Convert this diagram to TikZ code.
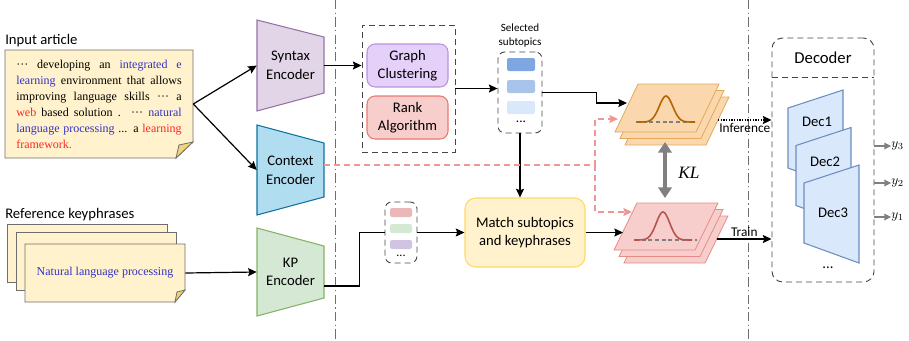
\documentclass[tikz,border=0pt]{standalone}
\usepackage{fontspec}
\setmainfont{Carlito}
\newfontfamily\tnr{Liberation Serif}
\usetikzlibrary{arrows.meta,positioning}
\definecolor{noteF}{RGB}{255,242,204}
\definecolor{noteD}{RGB}{110,110,110}
\definecolor{foldF}{RGB}{242,212,120}
\definecolor{synF}{RGB}{225,213,231}
\definecolor{synD}{RGB}{150,115,166}
\definecolor{ctxF}{RGB}{177,221,240}
\definecolor{ctxD}{RGB}{16,115,158}
\definecolor{kpF}{RGB}{213,232,212}
\definecolor{kpD}{RGB}{130,179,102}
\definecolor{gcF}{RGB}{229,208,250}
\definecolor{gcD}{RGB}{185,145,230}
\definecolor{rkF}{RGB}{248,206,204}
\definecolor{rkD}{RGB}{234,120,115}
\definecolor{matF}{RGB}{255,242,204}
\definecolor{matD}{RGB}{255,217,102}
\definecolor{barA}{RGB}{126,166,224}
\definecolor{barB}{RGB}{169,196,235}
\definecolor{barC}{RGB}{218,232,252}
\definecolor{kbA}{RGB}{234,184,184}
\definecolor{kbB}{RGB}{213,232,212}
\definecolor{kbC}{RGB}{208,196,226}
\definecolor{orF}{RGB}{250,215,172}
\definecolor{orD}{RGB}{228,168,92}
\definecolor{orC}{RGB}{180,101,4}
\definecolor{pkF}{RGB}{248,206,204}
\definecolor{pkD}{RGB}{228,140,136}
\definecolor{pkC}{RGB}{184,84,80}
\definecolor{pkL}{RGB}{240,150,150}
\definecolor{decF}{RGB}{218,232,252}
\definecolor{decD}{RGB}{108,142,191}
\definecolor{tblue}{RGB}{50,50,200}
\definecolor{tred}{RGB}{250,40,40}
\definecolor{sepC}{RGB}{110,110,110}
\definecolor{grpC}{RGB}{70,70,70}
\definecolor{kgray}{RGB}{128,128,128}
\begin{document}
\begin{tikzpicture}[x=0.75pt,y=-0.75pt,>={Stealth[length=6.5pt,width=6pt,inset=1pt]},
  lab/.style={inner sep=0pt,align=center,font=\fontsize{11}{14}\selectfont},
  enc/.style={lab,minimum width=50.25pt,minimum height=42pt},
  note/.style={fill=noteF,draw=noteD,line width=0.6pt},
  fold/.style={fill=foldF,draw=noteD,line width=0.6pt},
  blk/.style={lab,draw,line width=0.8pt,rounded corners=6pt,minimum width=60.75pt,minimum height=32.25pt},
  grp/.style={draw=grpC,line width=0.7pt,dash pattern=on 4.5pt off 3pt},
  bar/.style={inner sep=0pt,rounded corners=1.5pt},
  sep/.style={draw=sepC,line width=0.6pt,dash pattern=on 7pt off 2.5pt on 1pt off 2.5pt},
  conn/.style={->,line width=0.9pt},
  pd/.style={->,draw=pkL,line width=0.9pt,dash pattern=on 4.5pt off 3pt},
  outA/.style={draw=kgray,line width=0.8pt,-{Triangle[width=5pt,length=5pt]}}]
\useasboundingbox (0,0) rectangle (909,340);
\draw[sep] (335,0) -- (335,340);
\draw[sep] (748,0) -- (748,340);

\node[lab,anchor=west] (inlab) at (5,41) {Input article};
\draw[note] (5,50) -- (193,50) -- (193,142) -- (176,158) -- (5,158) -- cycle;
\draw[fold] (176,158) -- (179,145) -- (193,142) -- cycle;
\node[inner sep=0pt,minimum width=141pt,minimum height=81pt] (art) at (99,104)
  {\parbox{124pt}{\tnr\fontsize{9}{12}\selectfont\hyphenpenalty=10000
   ··· developing an \textcolor{tblue}{integrated e}\linebreak
   \textcolor{tblue}{learning} environment that allows\linebreak
   improving language skills ··· a\linebreak
   \textcolor{tred}{web} based solution . ··· \textcolor{tblue}{natural}\linebreak
   \textcolor{tblue}{language processing} ... a \textcolor{tred}{learning}\linebreak
   \textcolor{tred}{framework.}}};

\node[lab,anchor=west] (reflab) at (5,215) {Reference keyphrases};
\draw[note] (7,224) rectangle (167,282);
\draw[note] (16,232) rectangle (176,290);
\draw[note] (25,244) -- (185,244) -- (185,290) -- (175,302) -- (25,302) -- cycle;
\draw[fold] (175,302) -- (177,292) -- (185,290) -- cycle;
\node[inner sep=0pt,minimum width=120pt,minimum height=43.5pt,text=tblue,
  font=\tnr\fontsize{9}{11}\selectfont] (kph) at (105,273) {Natural language processing};

\draw[fill=synF,draw=synD,line width=0.8pt] (257,20) -- (324,37) -- (324,93) -- (257,111) -- cycle;
\node[enc] (syn) at (290.5,65.5) {Syntax\\Encoder};
\draw[fill=ctxF,draw=ctxD,line width=0.8pt] (257,125) -- (324,143) -- (324,197) -- (257,215) -- cycle;
\node[enc] (ctx) at (290.5,170) {Context\\Encoder};
\draw[fill=kpF,draw=kpD,line width=0.8pt] (257,228) -- (324,246) -- (324,298) -- (257,316) -- cycle;
\node[enc] (kp) at (290.5,272) {KP\\Encoder};

\draw[conn] (art.east) -- (syn.west);
\draw[conn] (art.east) -- (ctx.west);
\draw[conn] (kph.east) -- (kp.west);

\node[grp,inner sep=0pt,minimum width=69.75pt,minimum height=95.25pt] (clu) at (408.5,88.5) {};
\node[blk,draw=gcD,fill=gcF] (gc) at (407.5,65.5) {Graph\\Clustering};
\node[blk,draw=rkD,fill=rkF] (rk) at (407.5,117.5) {Rank\\Algorithm};
\draw[conn] (syn.east) -- (syn.east -| clu.west);

\node[grp,rounded corners=5pt,inner sep=0pt,minimum width=33pt,minimum height=60.75pt] (sel) at (520,92.5) {};
\node[lab,font=\fontsize{8.3}{10.5}\selectfont,above=3pt of sel] (sellab) {Selected\\subtopics};
\node[bar,fill=barA,minimum width=21pt,minimum height=9.75pt] (b1) at (521,64.5) {};
\node[bar,fill=barB,minimum width=21pt,minimum height=9.75pt] (b2) at (521,86.5) {};
\node[bar,fill=barC,minimum width=21pt,minimum height=9.75pt] (b3) at (521,107.5) {};
\node[lab,font=\fontsize{10}{10}\selectfont] (seld) at (521,122) {...};
\draw[conn] (clu.east) -- (clu.east -| sel.west);

\node[grp,rounded corners=5pt,inner sep=0pt,minimum width=24pt,minimum height=45.75pt] (kpb) at (401,232.5) {};
\node[bar,fill=kbA,minimum width=16.5pt,minimum height=6.75pt] (k1) at (401,212.5) {};
\node[bar,fill=kbB,minimum width=16.5pt,minimum height=6.75pt] (k2) at (401,228.5) {};
\node[bar,fill=kbC,minimum width=16.5pt,minimum height=6.75pt] (k3) at (401,244.5) {};
\node[lab,font=\fontsize{9}{9}\selectfont] (kpd) at (401,256) {...};
\draw[line width=0.9pt] ([yshift=-10.5pt]kp.east) -- ++(35,0) |- (kpb.west);

\node[blk,draw=matD,fill=matF,rounded corners=8pt,minimum width=90pt,minimum height=51.75pt] (mat) at (525,232.5)
  {Match subtopics\\and keyphrases};
\draw[conn] (kpb.east) -- (mat.west);
\draw[conn] (sel.south) -- (sel.south |- mat.north);

\foreach \d in {2,1,0}
  \draw[fill=orF,draw=orD,line width=0.6pt,shift={(5*\d,6.5*\d)}] (615,132) -- (638,84) -- (719,84) -- (696,132) -- cycle;
\draw[kgray,line width=1pt,dash pattern=on 3pt off 2pt] (636,122) -- (696,122);
\draw[orC,line width=1.2pt] plot[smooth,domain=-29:29,samples=41] ({666+\x},{122-26*exp(-(\x/9.5)*(\x/9.5))});

\foreach \d in {2,1,0}
  \draw[fill=pkF,draw=pkD,line width=0.6pt,shift={(5*\d,6.5*\d)}] (614,250) -- (637,203) -- (718,203) -- (695,250) -- cycle;
\draw[kgray,line width=1pt,dash pattern=on 3pt off 2pt] (635,240) -- (697,240);
\draw[pkC,line width=1.2pt] plot[smooth,domain=-29:29,samples=41] ({663+\x},{240-28*exp(-(\x/9.5)*(\x/9.5))});

\coordinate (orIn1) at (627,103);
\coordinate (orIn2) at (618,119);
\coordinate (pkIn1) at (623,232.5);
\coordinate (pkIn2) at (632,212);
\coordinate (jn) at (595,165);
\draw[conn] (sel.east) -- ++(54,0) |- (orIn1);
\draw[conn] (mat.east) -- (pkIn1);
\draw[pd] ([yshift=3.75pt]ctx.east) -- (jn) |- (orIn2);
\draw[pd] (jn) |- (pkIn2);

\coordinate (klT) at (665,142);
\coordinate (klB) at (665,198);
\draw[kgray,line width=3pt,{Triangle[width=10pt,length=8pt]}-{Triangle[width=10pt,length=8pt]}] (klT) -- (klB);
\node[font=\tnr\itshape\fontsize{13}{15}\selectfont,inner sep=0pt] (kll) at (689,173) {KL};

\node[grp,rounded corners=8pt,inner sep=0pt,minimum width=76.5pt,minimum height=183pt] (decbox) at (823,160) {};
\draw[grp] (decbox.west |- 0,77) -- (decbox.east |- 0,77);
\node[lab,font=\fontsize{12.5}{15}\selectfont] (declab) at (823,58) {Decoder};
\foreach \d/\n/\ly in {0/1/122,1/2/162,2/3/213}{
  \draw[fill=decF,draw=decD,line width=0.8pt,shift={(8*\d,37.5*\d)}] (788,108) -- (843,90) -- (843,188) -- (788,168) -- cycle;
  \node[lab] (dec\n) at (817+8*\d,\ly) {Dec\n};
}
\node[lab] (decd) at (828,268) {...};

\coordinate (orOut) at (718,120);
\coordinate (pkOut) at (717,239);
\draw[->,line width=1pt,dash pattern=on 1pt off 1pt] (orOut) -- (orOut -| decbox.west)
  node[midway,below=2pt,lab,font=\fontsize{10}{12}\selectfont] (infl) {Inference};
\draw[conn] (pkOut) -- (pkOut -| decbox.west)
  node[midway,above=1pt,lab,font=\fontsize{10}{12}\selectfont] (trl) {Train};

\node[anchor=west,inner sep=0pt] (y3) at (891,146) {$y_3$};
\node[anchor=west,inner sep=0pt] (y2) at (891,183) {$y_2$};
\node[anchor=west,inner sep=0pt] (y1) at (891,217) {$y_1$};
\draw[outA] (decbox.east |- y3) -- (y3.west);
\draw[outA] (decbox.east |- y2) -- (y2.west);
\draw[outA] (decbox.east |- y1) -- (y1.west);
\end{tikzpicture}
\end{document}
